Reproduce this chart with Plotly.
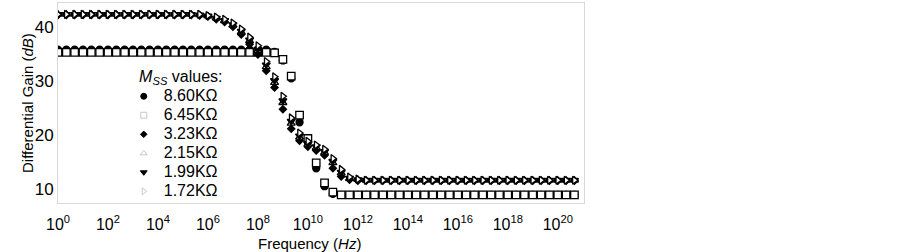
import plotly.graph_objects as go

# Frequency grid (Hz), 3 points per decade
FREQ_HZ = [1e0, 2.154e0, 4.642e0, 1e1, 2.154e1, 4.642e1, 1e2, 2.154e2, 4.642e2,
           1e3, 2.154e3, 4.642e3, 1e4, 2.154e4, 4.642e4, 1e5, 2.154e5, 4.642e5,
           1e6, 2.154e6, 4.642e6, 1e7, 2.154e7, 4.642e7, 1e8, 2.154e8, 4.642e8,
           1e9, 2.154e9, 4.642e9, 1e10, 2.154e10, 4.642e10, 1e11, 2.154e11, 4.642e11,
           1e12, 2.154e12, 4.642e12, 1e13, 2.154e13, 4.642e13, 1e14, 2.154e14, 4.642e14,
           1e15, 2.154e15, 4.642e15, 1e16, 2.154e16, 4.642e16, 1e17, 2.154e17, 4.642e17,
           1e18, 2.154e18, 4.642e18, 1e19, 2.154e19, 4.642e19, 1e20, 2.154e20, 4.642e20]

# Differential gain (dB) for each M_SS value
G_860 = [35.8, 35.8, 35.8, 35.8, 35.8, 35.8, 35.8, 35.8, 35.8, 35.8, 35.8, 35.8, 35.8,
         35.8, 35.8, 35.8, 35.8, 35.8, 35.8, 35.8, 35.8, 35.8, 35.8, 35.8, 35.8, 35.8,
         35.4, 33.8, 30.5, 22.4, 18.7, 13.9, 10.6, 9.2,
         9.0, 9.0, 9.0, 9.0, 9.0, 9.0, 9.0, 9.0, 9.0, 9.0, 9.0, 9.0, 9.0, 9.0, 9.0,
         9.0, 9.0, 9.0, 9.0, 9.0, 9.0, 9.0, 9.0, 9.0, 9.0, 9.0, 9.0, 9.0, 9.0]
G_645 = [35.3, 35.3, 35.3, 35.3, 35.3, 35.3, 35.3, 35.3, 35.3, 35.3, 35.3, 35.3, 35.3,
         35.3, 35.3, 35.3, 35.3, 35.3, 35.3, 35.3, 35.3, 35.3, 35.3, 35.3, 35.3, 35.3,
         35.2, 34.0, 30.9, 23.7, 19.4, 14.9, 11.2, 9.5,
         9.0, 9.0, 9.0, 9.0, 9.0, 9.0, 9.0, 9.0, 9.0, 9.0, 9.0, 9.0, 9.0, 9.0, 9.0,
         9.0, 9.0, 9.0, 9.0, 9.0, 9.0, 9.0, 9.0, 9.0, 9.0, 9.0, 9.0, 9.0, 9.0]
G_323 = [42.2, 42.2, 42.2, 42.2, 42.2, 42.2, 42.2, 42.2, 42.2, 42.2, 42.2, 42.2, 42.2,
         42.2, 42.2, 42.2, 42.2,
         42.1, 41.9, 41.4, 40.9, 40.0, 38.6, 36.8, 34.9, 31.9, 28.8, 24.8, 21.2, 19.0,
         17.9, 17.2, 16.3, 13.9, 12.4, 11.8, 11.6,
         11.6, 11.6, 11.6, 11.6, 11.6, 11.6, 11.6, 11.6, 11.6, 11.6, 11.6, 11.6, 11.6,
         11.6, 11.6, 11.6, 11.6, 11.6, 11.6, 11.6, 11.6, 11.6, 11.6, 11.6, 11.6, 11.6]
G_215 = [42.3, 42.3, 42.3, 42.3, 42.3, 42.3, 42.3, 42.3, 42.3, 42.3, 42.3, 42.3, 42.3,
         42.3, 42.3, 42.3, 42.3,
         42.2, 42.0, 41.6, 41.1, 40.3, 39.0, 37.4, 35.6, 32.6, 29.7, 26.0, 22.2, 19.6,
         18.3, 17.7, 16.8, 14.9, 13.0, 12.0, 11.8,
         11.7, 11.7, 11.7, 11.7, 11.7, 11.7, 11.7, 11.7, 11.7, 11.7, 11.7, 11.7, 11.7,
         11.7, 11.7, 11.7, 11.7, 11.7, 11.7, 11.7, 11.7, 11.7, 11.7, 11.7, 11.7, 11.7]
G_199 = [42.3, 42.3, 42.3, 42.3, 42.3, 42.3, 42.3, 42.3, 42.3, 42.3, 42.3, 42.3, 42.3,
         42.3, 42.3, 42.3, 42.3,
         42.2, 42.0, 41.6, 41.2, 40.4, 39.2, 37.6, 35.9, 33.0, 30.1, 26.4, 22.6, 19.9,
         18.5, 17.9, 17.0, 15.2, 13.2, 12.1, 11.8,
         11.7, 11.7, 11.7, 11.7, 11.7, 11.7, 11.7, 11.7, 11.7, 11.7, 11.7, 11.7, 11.7,
         11.7, 11.7, 11.7, 11.7, 11.7, 11.7, 11.7, 11.7, 11.7, 11.7, 11.7, 11.7, 11.7]
G_172 = [42.3, 42.3, 42.3, 42.3, 42.3, 42.3, 42.3, 42.3, 42.3, 42.3, 42.3, 42.3, 42.3,
         42.3, 42.3, 42.3, 42.3,
         42.3, 42.1, 41.8, 41.4, 40.7, 39.6, 38.1, 36.5, 33.6, 30.8, 27.2, 23.2, 20.4,
         18.9, 18.2, 17.4, 15.7, 13.7, 12.3, 11.9,
         11.7, 11.7, 11.7, 11.7, 11.7, 11.7, 11.7, 11.7, 11.7, 11.7, 11.7, 11.7, 11.7,
         11.7, 11.7, 11.7, 11.7, 11.7, 11.7, 11.7, 11.7, 11.7, 11.7, 11.7, 11.7, 11.7]

SERIES_NAMES = ["8.60KΩ", "6.45KΩ", "3.23KΩ", "2.15KΩ", "1.99KΩ", "1.72KΩ"]
SERIES_VALUES = [G_860, G_645, G_323, G_215, G_199, G_172]

X_TICK_VALS = [1e0, 1e2, 1e4, 1e6, 1e8, 1e10, 1e12, 1e14, 1e16, 1e18, 1e20]
X_TICK_TEXT = ["10<sup>0</sup>", "10<sup>2</sup>", "10<sup>4</sup>", "10<sup>6</sup>",
               "10<sup>8</sup>", "10<sup>10</sup>", "10<sup>12</sup>", "10<sup>14</sup>",
               "10<sup>16</sup>", "10<sup>18</sup>", "10<sup>20</sup>"]
Y_TICK_VALS = [10, 20, 30, 40]

# styles: (symbol, size, fill)
PLOT_STYLE = [
    ("circle", 7, "black"),
    ("square", 7.5, "white"),
    ("diamond", 5.5, "black"),
    ("triangle-up", 7, "white"),
    ("triangle-down", 7, "black"),
    ("triangle-right", 7, "white"),
]
LEGEND_STYLE = [
    ("circle", 6, "black", "black"),
    ("square-open", 6, "#c8c8c8", "#c8c8c8"),
    ("diamond", 5, "black", "black"),
    ("triangle-up-open", 6, "#c8c8c8", "#c8c8c8"),
    ("triangle-down", 6, "black", "black"),
    ("triangle-right-open", 6, "#c8c8c8", "#c8c8c8"),
]

FONT = "Liberation Sans, Arial, sans-serif"

fig = go.Figure()
for name, vals, (sym, size, fill) in zip(SERIES_NAMES, SERIES_VALUES, PLOT_STYLE):
    fig.add_trace(go.Scatter(
        x=FREQ_HZ, y=vals, mode="markers", name=name, showlegend=False,
        marker=dict(symbol=sym, size=size, color=fill,
                    line=dict(color="black", width=1.3)),
        cliponaxis=True,
    ))
for name, (sym, size, col, lcol) in zip(SERIES_NAMES, LEGEND_STYLE):
    fig.add_trace(go.Scatter(
        x=[None], y=[None], mode="markers",
        name='<span style="font-size:16px">' + name + '</span>',
        marker=dict(symbol=sym, size=size, color=col, line=dict(color=lcol, width=1)),
    ))

fig.update_layout(
    width=903, height=252, autosize=False,
    margin=dict(l=58, r=319, t=3, b=49),
    paper_bgcolor="white", plot_bgcolor="white",
    font=dict(family=FONT, size=15, color="#000000"),
    showlegend=True,
    legend=dict(
        x=0.125, y=0.71, xanchor="left", yanchor="top",
        bgcolor="rgba(0,0,0,0)", borderwidth=0,
        font=dict(family=FONT, size=11, color="#000000"),
        title=dict(text="\u00a0\u00a0\u00a0<i>M<sub>SS</sub></i> values:",
                   font=dict(family=FONT, size=16, color="#000000")),
        itemclick=False,
    ),
    xaxis=dict(
        type="log", range=[0, 21.05], automargin=False,
        tickvals=X_TICK_VALS, ticktext=X_TICK_TEXT,
        showgrid=False, zeroline=False, ticks="", ticklabelstandoff=7,
        showline=True, mirror=True, linecolor="#d9d9d9", linewidth=1,
        tickfont=dict(family=FONT, size=16, color="#000000"),
    ),
    yaxis=dict(
        range=[7.5, 44.4], tickvals=Y_TICK_VALS, automargin=False,
        showgrid=False, zeroline=False, ticks="",
        showline=True, mirror=True, linecolor="#d9d9d9", linewidth=1,
        tickfont=dict(family=FONT, size=17, color="#000000"),
    ),
    annotations=[
        dict(text="Frequency (<i>Hz</i>)", xref="paper", yref="paper",
             x=0.479, y=-0.2, xanchor="center", yanchor="middle", showarrow=False,
             font=dict(family=FONT, size=15, color="#000000")),
        dict(text="Differential Gain (<i>dB</i>)", xref="paper", yref="paper",
             x=-0.059, y=0.5, xanchor="center", yanchor="middle", showarrow=False,
             textangle=-90, font=dict(family=FONT, size=15, color="#000000")),
    ],
)

fig.write_html("out.html", config={"displayModeBar": False},
               post_script="document.body.style.margin='0';")
